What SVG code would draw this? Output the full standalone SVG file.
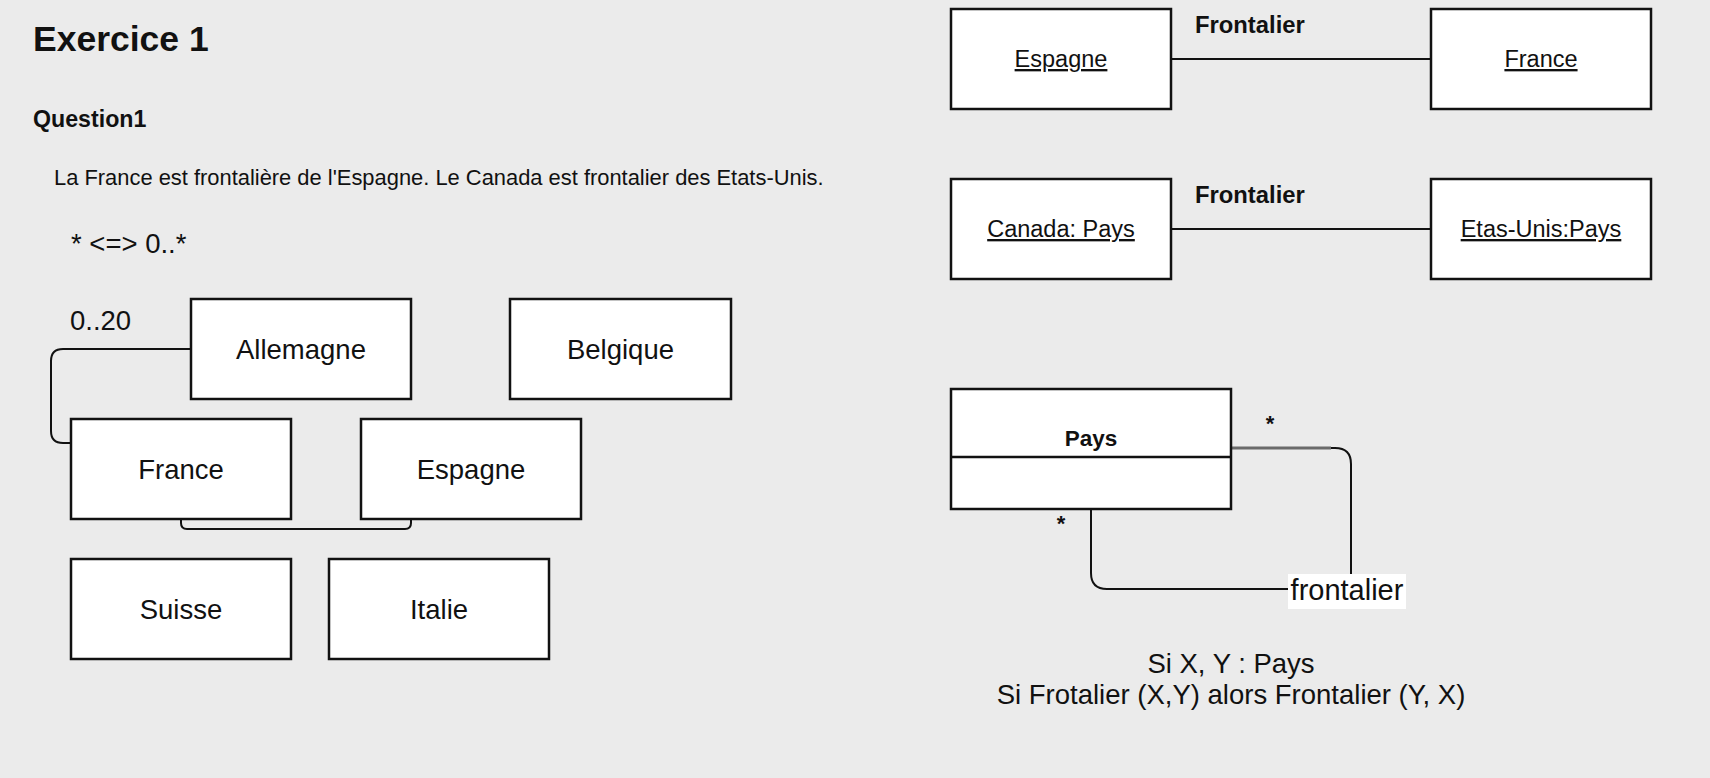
<svg xmlns="http://www.w3.org/2000/svg" width="1710" height="778" viewBox="0 0 1710 778">
<style>
text{font-family:"Liberation Sans",Arial,sans-serif;fill:#111}
.box{fill:#fff;stroke:#111;stroke-width:2.5}
.n{font-size:27.5px;text-anchor:middle}
.o{font-size:23.5px;text-anchor:middle;text-decoration:underline}
.b{font-weight:bold}
.c{fill:none;stroke:#111;stroke-width:2}
</style>
<rect width="1710" height="778" fill="#ebebeb"/>
<g id="texts">
<text x="33" y="51" class="b" font-size="35.5">Exercice 1</text>
<text x="33" y="127" class="b" font-size="23.2">Question1</text>
<text x="54" y="185" font-size="21.9">La France est frontalière de l'Espagne. Le Canada est frontalier des Etats-Unis.</text>
<text x="71" y="253" font-size="27.5">* &lt;=&gt; 0..*</text>
<text x="70" y="330" font-size="27.5">0..20</text>
<text x="1231" y="673" class="n">Si X, Y : Pays</text>
<text x="1231" y="704" class="n" font-size="27.8">Si Frotalier (X,Y) alors Frontalier (Y, X)</text>
</g>
<g id="connectors">
<path class="c" d="M191 349 H63 Q51 349 51 361 V431 Q51 443 63 443 H71"/>
<path class="c" d="M181 519 V523 Q181 529 187 529 H405 Q411 529 411 523 V519"/>
<path class="c" d="M1171 59 H1431"/>
<path class="c" d="M1171 229 H1431"/>
<path class="c" d="M1231 448 H1335 Q1351 448 1351 464 V589"/>
<path d="M1231 448 H1331" fill="none" stroke="#6a6a6a" stroke-width="3"/>
<path class="c" d="M1091 509 V573 Q1091 589 1107 589 H1351"/>
<text x="1195" y="33" class="b" font-size="23.8">Frontalier</text>
<text x="1195" y="203" class="b" font-size="23.8">Frontalier</text>
<text x="1270" y="431" class="b" font-size="22" text-anchor="middle">*</text>
<text x="1061" y="531" class="b" font-size="22" text-anchor="middle">*</text>
<rect x="1288" y="574" width="118" height="35" fill="#fff"/>
<text x="1347" y="600" font-size="29" text-anchor="middle">frontalier</text>
</g>
<g id="allemagne"><rect class="box" x="191" y="299" width="220" height="100"/><text class="n" x="301" y="358.6">Allemagne</text></g>
<g id="belgique"><rect class="box" x="510" y="299" width="221" height="100"/><text class="n" x="620.5" y="358.6">Belgique</text></g>
<g id="france"><rect class="box" x="71" y="419" width="220" height="100"/><text class="n" x="181" y="478.6">France</text></g>
<g id="espagne"><rect class="box" x="361" y="419" width="220" height="100"/><text class="n" x="471" y="478.6">Espagne</text></g>
<g id="suisse"><rect class="box" x="71" y="559" width="220" height="100"/><text class="n" x="181" y="618.6">Suisse</text></g>
<g id="italie"><rect class="box" x="329" y="559" width="220" height="100"/><text class="n" x="439" y="618.6">Italie</text></g>
<g id="obj-espagne"><rect class="box" x="951" y="9" width="220" height="100"/><text class="o" x="1061" y="67">Espagne</text></g>
<g id="obj-france"><rect class="box" x="1431" y="9" width="220" height="100"/><text class="o" x="1541" y="67">France</text></g>
<g id="obj-canada"><rect class="box" x="951" y="179" width="220" height="100"/><text class="o" x="1061" y="237">Canada: Pays</text></g>
<g id="obj-etatsunis"><rect class="box" x="1431" y="179" width="220" height="100"/><text class="o" x="1541" y="237">Etas-Unis:Pays</text></g>
<g id="class-pays"><rect class="box" x="951" y="389" width="280" height="120"/><line x1="951" y1="457" x2="1231" y2="457" stroke="#111" stroke-width="2.5"/><text class="b" x="1091" y="446" font-size="22.5" text-anchor="middle">Pays</text></g>
</svg>
